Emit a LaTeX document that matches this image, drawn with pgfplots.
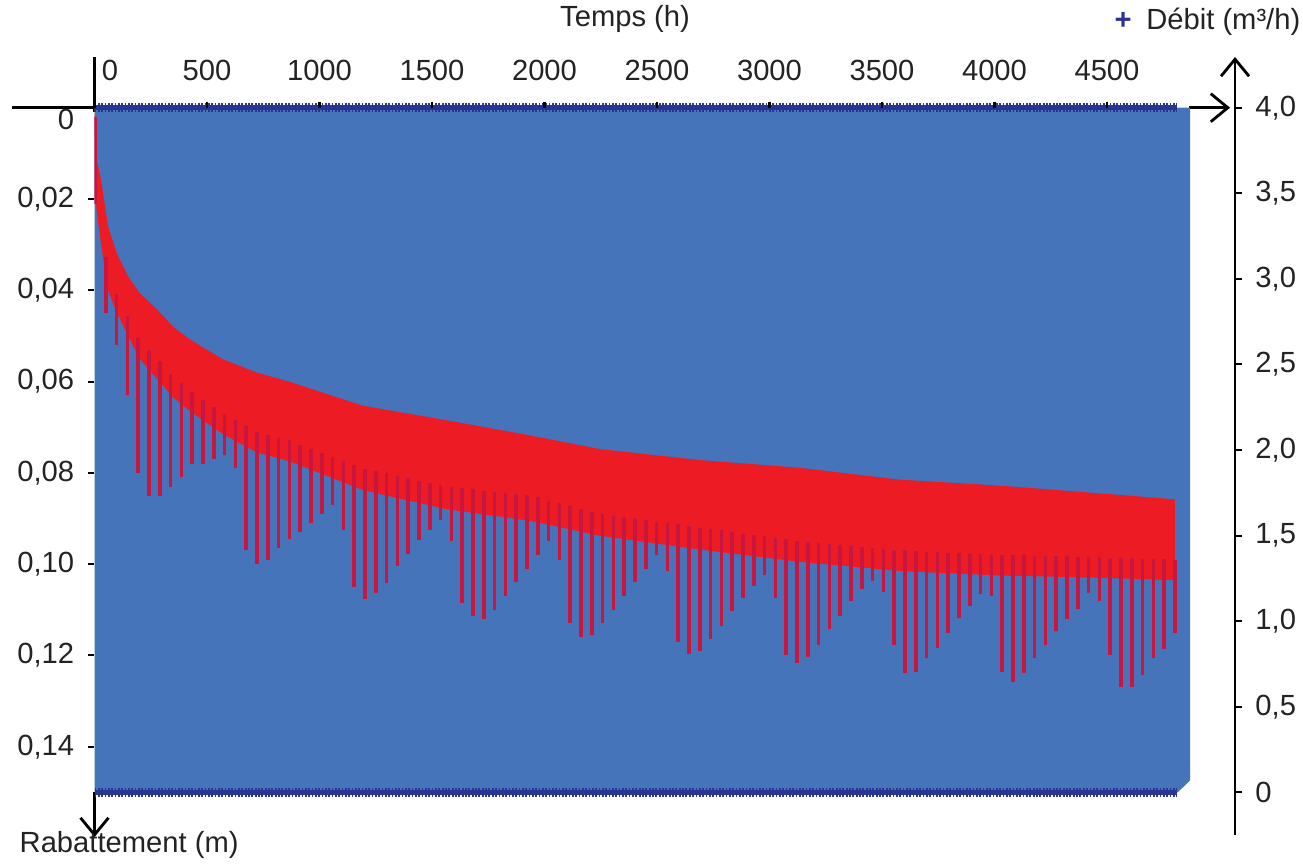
\documentclass[border=0pt]{standalone}
\usepackage{fontspec}
\setmainfont{Liberation Sans}
\usepackage{pgfplots}
\usepackage{pgfplotstable}
\pgfplotsset{compat=1.18}
\usetikzlibrary{arrows.meta}

\definecolor{bluefill}{RGB}{69,116,186}
\definecolor{markblue}{RGB}{42,52,145}
\definecolor{bandred}{RGB}{237,28,36}
\definecolor{spikered}{RGB}{200,22,62}
\definecolor{txt}{RGB}{35,35,35}

% drawdown spikes: time (h), start (band bottom), spike depth (m)
\pgfplotstableread{
t y0 y1
2 0.006 0.021
50 0.0367 0.045
98 0.0448 0.052
146 0.0496 0.063
194 0.0544 0.080
242 0.0571 0.085
290 0.0596 0.085
338 0.0623 0.083
386 0.0644 0.081
434 0.0663 0.078
482 0.0680 0.078
530 0.0696 0.077
578 0.0712 0.076
626 0.0725 0.079
674 0.0738 0.097
722 0.0750 0.100
770 0.0757 0.099
818 0.0763 0.0965
866 0.0769 0.0945
914 0.0778 0.093
962 0.0787 0.091
1010 0.0796 0.089
1058 0.0805 0.087
1106 0.0814 0.0925
1154 0.0823 0.105
1202 0.0831 0.1077
1250 0.0836 0.1064
1298 0.0841 0.1042
1346 0.0846 0.1005
1394 0.0851 0.0977
1442 0.0857 0.0947
1490 0.0862 0.0925
1538 0.0867 0.0904
1586 0.0871 0.095
1634 0.0874 0.1085
1682 0.0876 0.1113
1730 0.0879 0.112
1778 0.0881 0.110
1826 0.0884 0.107
1874 0.0887 0.104
1922 0.0889 0.101
1970 0.0894 0.098
2018 0.0901 0.095
2066 0.0907 0.099
2114 0.0913 0.113
2162 0.0919 0.116
2210 0.0925 0.1155
2258 0.0931 0.113
2306 0.0934 0.110
2354 0.0937 0.107
2402 0.0940 0.104
2450 0.0944 0.101
2498 0.0947 0.098
2546 0.0950 0.1015
2594 0.0953 0.117
2642 0.0957 0.1196
2690 0.0960 0.119
2738 0.0963 0.1163
2786 0.0966 0.1135
2834 0.0970 0.1103
2882 0.0973 0.1075
2930 0.0976 0.1049
2978 0.0979 0.1023
3026 0.0983 0.1075
3074 0.0986 0.120
3122 0.0989 0.1217
3170 0.0992 0.1204
3218 0.0994 0.1178
3266 0.0996 0.1142
3314 0.0998 0.1114
3362 0.1000 0.1081
3410 0.1002 0.1055
3458 0.1005 0.1038
3506 0.1007 0.106
3554 0.1009 0.1178
3602 0.1010 0.1239
3650 0.1012 0.1237
3698 0.1013 0.1206
3746 0.1014 0.1183
3794 0.1015 0.115
3842 0.1016 0.1118
3890 0.1017 0.1092
3938 0.1018 0.1066
3986 0.1019 0.107
4034 0.1020 0.1237
4082 0.1021 0.1258
4130 0.1021 0.1239
4178 0.1022 0.1206
4226 0.1022 0.1178
4274 0.1023 0.1146
4322 0.1023 0.112
4370 0.1024 0.1098
4418 0.1024 0.1064
4466 0.1025 0.108
4514 0.1026 0.120
4562 0.1026 0.1269
4610 0.1027 0.1269
4658 0.1028 0.1243
4706 0.1028 0.1206
4754 0.1029 0.1185
4802 0.1030 0.115
}\spikes

\begin{document}
\begin{tikzpicture}[font=\fontsize{8.3}{10}\selectfont, text=txt,
  axisline/.style={black, line width=0.8pt},
  barb/.style={-{Straight Barb[length=1.7mm,width=2.8mm,line width=0.8pt]}}]
\path[use as bounding box] (0,0) rectangle (130.3mm,86.5mm);

% axis lines (behind the data; hidden where the plot covers them)
\draw[axisline] (1.2mm,75.73mm) -- (9.6mm,75.73mm);
\draw[axisline, barb] (118.9mm,75.73mm) -- (123.0mm,75.73mm);
\draw[axisline] (9.45mm,80.8mm) -- (9.45mm,75.3mm);
\draw[axisline, barb] (9.45mm,7.3mm) -- (9.45mm,2.8mm);
\draw[axisline, barb] (123.5mm,3.0mm) -- (123.5mm,80.8mm);

% débit (right axis)
\begin{axis}[
  at={(9.45mm,7.27mm)}, anchor=south west,
  scale only axis, width=114.05mm, height=68.46mm,
  xmin=0, xmax=5069, ymin=0, ymax=4,
  axis x line=none, axis y line*=right,
  axis line style={draw=none},
  clip=false,
  xtick=\empty,
  ytick={0,0.5,1,1.5,2,2.5,3,3.5,4},
  yticklabels={0,{0,5},{1,0},{1,5},{2,0},{2,5},{3,0},{3,5},{4,0}},
  tick align=outside, major tick length=0.7mm,
  tick style={black, line width=0.6pt},
  yticklabel style={xshift=0.1mm, font=\fontsize{8.3}{10}\selectfont},
]
\addplot[fill=bluefill, draw=none] coordinates {(0,0) (0,4) (4869,4) (4869,0.07) (4815,0)};
\addplot[markblue, line width=1.5pt] coordinates {(0,4) (4811,4)};
\addplot[markblue, line width=2.4pt, dash pattern=on 0.5pt off 0.45pt] coordinates {(0,4) (4811,4)};
\addplot[markblue, line width=1.5pt] coordinates {(0,0) (4811,0)};
\addplot[markblue, line width=2.4pt, dash pattern=on 0.5pt off 0.45pt] coordinates {(0,0) (4811,0)};
\end{axis}

% rabattement (left axis, reversed)
\begin{axis}[
  at={(9.45mm,7.27mm)}, anchor=south west,
  scale only axis, width=109.55mm, height=68.46mm,
  xmin=0, xmax=4869, ymin=0, ymax=0.15, y dir=reverse,
  axis x line*=top, axis y line*=left,
  axis line style={draw=none},
  xtick={0,500,1000,1500,2000,2500,3000,3500,4000,4500},
  xticklabels={\hspace*{3.1mm}0,500,1000,1500,2000,2500,3000,3500,4000,4500},
  ytick={0.02,0.04,0.06,0.08,0.1,0.12,0.14},
  yticklabels={{0,02},{0,04},{0,06},{0,08},{0,10},{0,12},{0,14}},
  extra y ticks={0}, extra y tick labels={0},
  extra y tick style={yticklabel style={yshift=-1.2mm}},
  tick align=outside, major tick length=0.6mm,
  tick style={black, line width=0.6pt},
  xticklabel style={yshift=0.9mm, font=\fontsize{8.3}{10}\selectfont},
  yticklabel style={xshift=-0.2mm, font=\fontsize{8.3}{10}\selectfont},
]
% solid band of the drawdown: upper envelope then lower edge back
\addplot[fill=bandred, draw=none] coordinates {
  (0,0.000) (8,0.011) (30,0.016) (60,0.026) (100,0.032) (150,0.037)
  (200,0.0406) (280,0.0443) (350,0.048) (425,0.0508) (570,0.0551)
  (720,0.058) (870,0.0601) (1194,0.0653) (1567,0.0685) (1936,0.0718)
  (2247,0.0748) (2691,0.0772) (3136,0.0789) (3580,0.0815) (4024,0.0828)
  (4469,0.0845) (4802,0.0858)
  (4802,0.1035) (4469,0.103) (4024,0.1025) (3580,0.1015) (3136,0.0995)
  (2691,0.0968) (2247,0.0938) (1936,0.0905) (1567,0.088) (1194,0.0838)
  (870,0.0775) (720,0.0755) (570,0.0715) (425,0.0665) (350,0.0635)
  (280,0.0595) (200,0.055) (150,0.050) (100,0.045) (60,0.040)
  (30,0.030) (8,0.022) (0,0.000)};
% spikes below the band, starting a little inside it
\addplot[only marks, mark=*, mark size=0pt, mark options={draw=none, fill=none},
  error bars/.cd, y dir=plus, y explicit, error mark=none,
  error bar style={color=spikered, line width=1pt}]
  table[x=t, y expr=\thisrow{y0}-0.004, y error expr=\thisrow{y1}-\thisrow{y0}+0.004] {\spikes};
\end{axis}

\node[anchor=center] at (62.5mm,84.6mm) {Temps (h)};
\node[anchor=east, inner sep=0pt] at (130.1mm,84.3mm) {{\color{markblue}\textbf{+}}\enspace Débit (m³/h)};
\node[anchor=west, inner sep=0pt] at (1.9mm,2.0mm) {Rabattement (m)};
\end{tikzpicture}
\end{document}
